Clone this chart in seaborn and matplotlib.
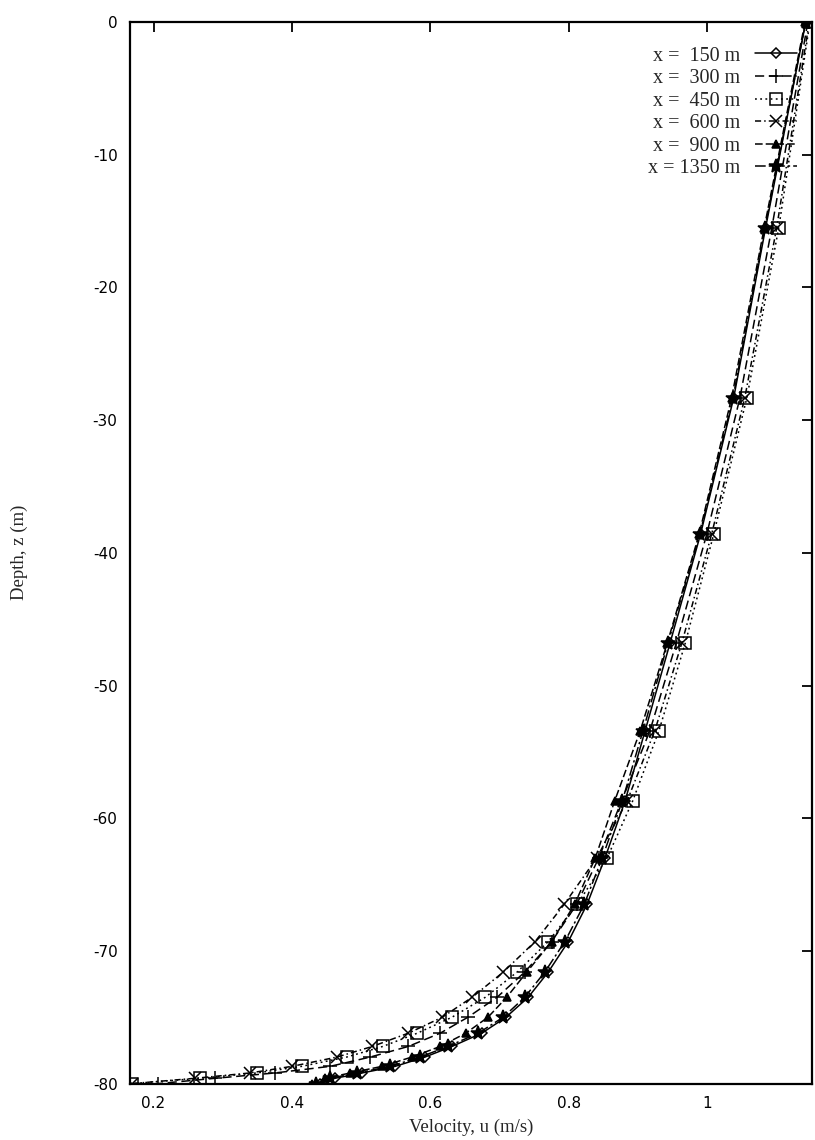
import matplotlib
matplotlib.use("Agg")
import matplotlib.pyplot as plt
from matplotlib.ticker import FormatStrFormatter, FixedLocator
import seaborn as sns

# ---- data ----
depth = [0, -15.5, -28.3, -38.6, -46.8, -53.4, -58.7, -63.0, -66.5, -69.3,
         -71.6, -73.5, -75.0, -76.2, -77.2, -78.0, -78.7, -79.2, -79.6, -80]

labels = ["x =  150 m", "x =  300 m", "x =  450 m",
          "x =  600 m", "x =  900 m", "x = 1350 m"]

u150 = [1.142, 1.084, 1.038, 0.990, 0.946, 0.910, 0.881, 0.852, 0.826, 0.799,
        0.770, 0.741, 0.709, 0.674, 0.631, 0.592, 0.549, 0.501, 0.462, 0.440]
u300 = [1.145, 1.093, 1.047, 0.999, 0.955, 0.917, 0.876, 0.843, 0.811, 0.775,
        0.736, 0.696, 0.654, 0.614, 0.568, 0.513, 0.455, 0.375, 0.289, 0.207]
u450 = [1.148, 1.103, 1.057, 1.009, 0.968, 0.930, 0.892, 0.855, 0.812, 0.770,
        0.725, 0.679, 0.631, 0.581, 0.531, 0.479, 0.414, 0.349, 0.267, 0.169]
u600 = [1.147, 1.100, 1.054, 1.006, 0.963, 0.924, 0.884, 0.840, 0.793, 0.751,
        0.705, 0.660, 0.617, 0.568, 0.516, 0.465, 0.400, 0.339, 0.260, 0.169]
u900 = [1.141, 1.082, 1.035, 0.988, 0.942, 0.903, 0.866, 0.838, 0.808, 0.775,
        0.739, 0.710, 0.683, 0.651, 0.614, 0.573, 0.530, 0.484, 0.448, 0.429]
u1350 = [1.142, 1.083, 1.037, 0.989, 0.943, 0.907, 0.877, 0.848, 0.822, 0.794,
         0.765, 0.736, 0.705, 0.669, 0.625, 0.585, 0.542, 0.494, 0.455, 0.435]

series = [u150, u300, u450, u600, u900, u1350]
x_ticks = [0.2, 0.4, 0.6, 0.8, 1.0]
y_ticks = [0, -10, -20, -30, -40, -50, -60, -70, -80]

# ---- style ----
sns.set_style("white")
plt.rcParams["font.family"] = ["Liberation Serif", "DejaVu Serif"]
plt.rcParams["axes.unicode_minus"] = False

fig = plt.figure(figsize=(8.15, 11.4), dpi=100)
ax = fig.add_axes([130 / 815, 1 - 1083.6 / 1140, 682 / 815, 1061.6 / 1140])

styles = [
    dict(marker="D", markersize=5.5, markerfacecolor="none", linestyle="-"),
    dict(marker="+", markersize=10, linestyle=(0, (6, 3))),
    dict(marker="s", markersize=8, markerfacecolor="none", linestyle=(0, (1.2, 2.2))),
    dict(marker="x", markersize=8, linestyle=(0, (4, 2, 1, 2))),
    dict(marker="^", markersize=6, linestyle=(0, (5, 2))),
    dict(marker="*", markersize=10, linestyle=(0, (7, 2, 1.5, 2))),
]

for lab, u, st in zip(labels, series, styles):
    sns.lineplot(x=u, y=depth, sort=False, estimator=None, ax=ax,
                 color="black", linewidth=1.1, label=lab,
                 markeredgecolor="black", markeredgewidth=1.1, **st)

ax.set_xlim(0.166, 1.151)
ax.set_ylim(-80, 0)
ax.xaxis.set_major_locator(FixedLocator(x_ticks))
ax.yaxis.set_major_locator(FixedLocator(y_ticks))
ax.xaxis.set_major_formatter(FormatStrFormatter("%g"))
ax.yaxis.set_major_formatter(FormatStrFormatter("%g"))
ax.tick_params(direction="in", top=True, right=True, length=7, width=1.3,
               labelsize=11, labelfontfamily="DejaVu Sans", colors="black")
ax.tick_params(axis="x", pad=9)
ax.tick_params(axis="y", pad=9)
for sp in ax.spines.values():
    sp.set_linewidth(1.6)
    sp.set_color("black")

ax.set_xlabel("Velocity, u (m/s)", fontsize=13.5)
ax.set_ylabel("Depth, z (m)", fontsize=13.5)
ax.xaxis.set_label_coords(0.5, -0.033)
ax.yaxis.set_label_coords(-0.150, 0.5)

# markerfirst=False right-aligns the rows, so the texts end flush (gnuplot style)
leg = ax.legend(loc="upper right", bbox_to_anchor=(0.978, 0.977),
                borderaxespad=0, frameon=False, markerfirst=False,
                fontsize=14.5, handlelength=2.1, handletextpad=0.7,
                labelspacing=0.17, borderpad=0)

fig.savefig("out.png", dpi=100)
